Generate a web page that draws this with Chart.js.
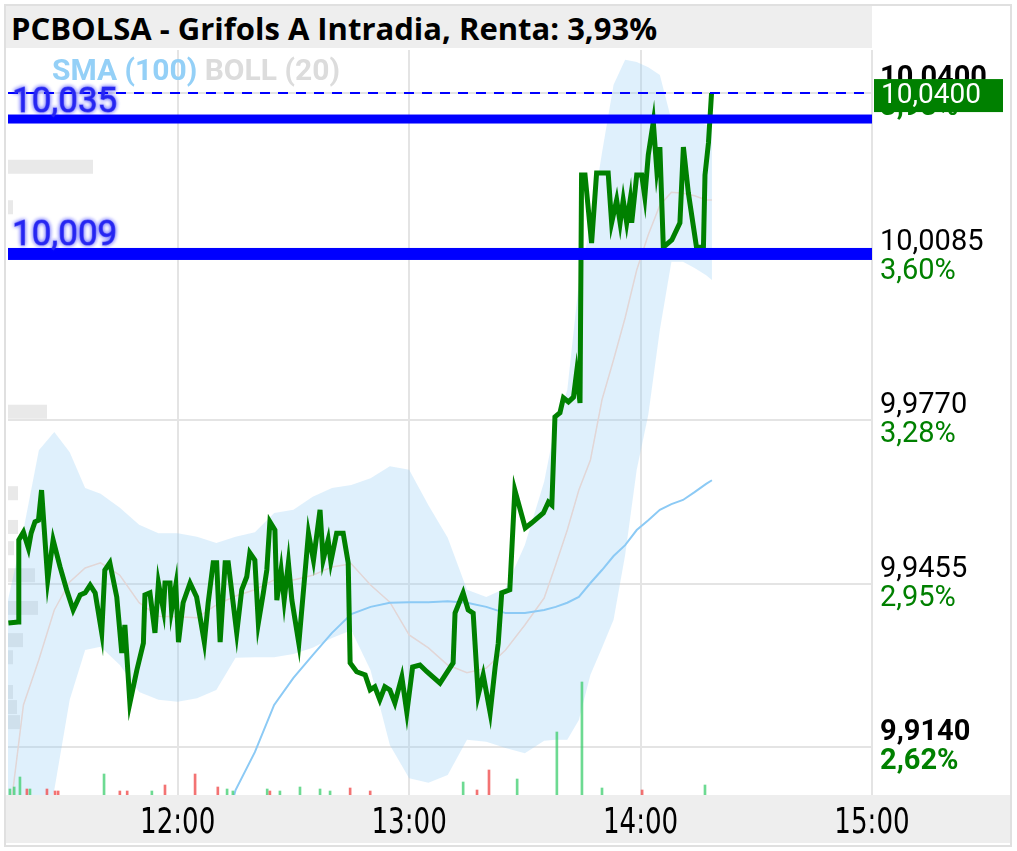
<!DOCTYPE html>
<html>
<head>
<meta charset="utf-8">
<script src="https://cdn.jsdelivr.net/npm/chart.js@4.4.1/dist/chart.umd.min.js"></script>
<style>
  html, body { margin: 0; padding: 0; background: #fff; }
  #wrap { position: relative; width: 1017px; height: 851px; overflow: hidden; }
  #frame { position: absolute; left: 4px; top: 4px; width: 1004px; height: 839px; border: 2px solid #e0e0e0; }
  #title { position: absolute; left: 6px; top: 6px; width: 866px; height: 42px; background: #eeeeee;
           font: bold 31px 'Open Sans', sans-serif; line-height: 44px; padding-left: 5px; box-sizing: border-box; color: #000; white-space: nowrap; }
  #bottom { position: absolute; left: 6px; top: 795px; width: 1004px; height: 48px; background: #eeeeee; }
  canvas { position: absolute; left: 0; top: 0; }
</style>
</head>
<body>
<div id="wrap">
  <div id="frame"></div>
  <div id="title">PCBOLSA - Grifols A Intradia, Renta: 3,93%</div>
  <div id="bottom"></div>
  <canvas id="chart" width="1017" height="851"></canvas>
</div>
<script>
// tiempo en minutos desde las 11:00
const priceTime = [16.1,18.7,18.8,20.0,21.3,22.0,23.0,23.9,24.7,26.3,27.7,29.5,31.2,32.9,34.7,36.0,37.3,38.6,40.3,41.1,
  42.4,44.2,45.5,46.3,47.6,49.4,51.1,51.5,52.8,54.1,55.0,56.3,56.7,58.0,58.4,59.5,60.2,61.4,63.2,64.9,
  66.9,67.9,69.2,70.1,71.0,72.3,73.1,75.3,76.6,77.9,78.7,80.0,80.9,82.2,83.1,83.9,85.2,85.7,86.8,87.6,
  88.7,89.6,91.4,93.0,93.9,95.2,96.9,97.7,99.0,99.7,101.2,102.9,104.2,104.7,106.4,108.6,109.9,111.1,112.4,113.7,
  115.0,116.3,118.1,119.4,120.9,122.8,124.6,128.0,131.4,131.9,134.0,135.3,136.6,137.9,139.2,141.0,142.3,143.1,144.0,146.1,
  147.4,150.1,151.8,154.8,156.1,157.0,157.8,159.1,160.0,161.3,162.6,163.4,164.3,164.7,165.6,167.3,168.6,171.6,172.5,173.8,
  174.7,175.5,176.4,177.3,177.7,179.0,180.3,181.1,182.0,183.3,184.2,185.0,185.9,188.1,190.2,191.1,192.4,194.5,196.3,196.7,
  197.6,198.4];
const priceValue = [9.9379,9.9381,9.9539,9.9554,9.9523,9.9552,9.9574,9.9577,9.9635,9.9462,9.9539,9.9487,9.9443,9.9404,9.9433,9.9437,9.9452,9.9437,9.9360,9.9481,
  9.9495,9.9429,9.9321,9.9375,9.9225,9.9288,9.9340,9.9433,9.9437,9.9360,9.9456,9.9404,9.9456,9.9456,9.9404,9.9452,9.9342,9.9418,9.9456,9.9429,
  9.9342,9.9418,9.9495,9.9495,9.9342,9.9495,9.9495,9.9360,9.9443,9.9468,9.9514,9.9500,9.9379,9.9437,9.9481,9.9574,9.9558,9.9423,9.9481,9.9423,
  9.9495,9.9423,9.9340,9.9475,9.9552,9.9500,9.9597,9.9500,9.9539,9.9497,9.9552,9.9552,9.9495,9.9302,9.9285,9.9279,9.9250,9.9256,9.9231,9.9256,
  9.9250,9.9225,9.9275,9.9207,9.9294,9.9298,9.9285,9.9263,9.9302,9.9398,9.9437,9.9404,9.9398,9.9240,9.9279,9.9206,9.9294,9.9340,9.9437,9.9443,
  9.9635,9.9562,9.9572,9.9591,9.9612,9.9606,9.9776,9.9784,9.9813,9.9805,9.9814,9.9861,9.9803,10.0242,10.0242,10.0111,10.0246,10.0246,10.0150,10.0194,
  10.0150,10.0194,10.0150,10.0194,10.0150,10.0242,10.0242,10.0200,10.0281,10.0344,10.0252,10.0296,10.0103,10.0117,10.0150,10.0296,10.0207,10.0103,10.0103,10.0242,
  10.0304,10.0400];

const bandTime = [16,20,24,28,32,36,40,45,50,55,60,65,70,75,80,85,90,95,100,105,110,115,120,125,130,135,140,145,150,155,
  158,161,164,167,170,173,176,179,182,185,188,191,194,197,198.5];
const bollUpper = [9.9423,9.9558,9.9712,9.9747,9.9708,9.9639,9.9628,9.9601,9.9568,9.9552,9.9552,9.9545,9.9533,9.9545,9.9554,
  9.9591,9.9597,9.9622,9.9639,9.9645,9.9658,9.9681,9.9674,9.9606,9.9543,9.9443,9.9429,9.9446,9.9529,9.9651,
  9.9764,9.9828,10.0034,10.0146,10.0285,10.0416,10.0464,10.0460,10.0450,10.0435,10.0348,10.0344,10.0344,10.0339,10.0329];
const bollMiddle = [9.8980,9.9221,9.9308,9.9404,9.9458,9.9485,9.9495,9.9471,9.9418,9.9392,9.9391,9.9389,9.9414,9.9431,9.9443,
  9.9462,9.9462,9.9471,9.9487,9.9493,9.9452,9.9419,9.9356,9.9331,9.9298,9.9283,9.9292,9.9327,9.9375,9.9427,
  9.9491,9.9558,9.9635,9.9693,9.9809,9.9886,9.9967,10.0059,10.0127,10.0184,10.0209,10.0207,10.0202,10.0194,10.0194];
const bollLower = [9.8845,9.8884,9.8942,9.9057,9.9231,9.9327,9.9333,9.9298,9.9246,9.9231,9.9227,9.9234,9.9250,9.9312,9.9313,
  9.9313,9.9319,9.9331,9.9350,9.9365,9.9288,9.9144,9.9080,9.9071,9.9086,9.9154,9.9150,9.9138,9.9128,9.9152,
  9.9154,9.9154,9.9192,9.9279,9.9331,9.9385,9.9510,9.9674,9.9780,9.9944,10.0075,10.0075,10.0063,10.0049,10.0040];

const smaTime = [74.3,75,80,85,90,95,100,105,110,115,120,125,130,135,140,145,150,155,158,161,164,167,170,173,176,179,182,185,188,191,194,197,198.5];
const smaValue = [9.9038,9.9057,9.9130,9.9221,9.9273,9.9317,9.9360,9.9396,9.9410,9.9418,9.9419,9.9419,9.9421,9.9418,9.9410,9.9398,9.9398,
  9.9404,9.9410,9.9418,9.9429,9.9456,9.9481,9.9508,9.9529,9.9558,9.9577,9.9597,9.9608,9.9616,9.9631,9.9647,9.9654];

const volTime = [16.5,17.6,19.1,20.9,21.7,26.1,28.2,29.0,40.9,45.0,46.9,53.3,56.7,64.5,70.4,72.8,74.3,83.2,83.9,86.5,
  91.7,96.9,99.5,104.7,109.9,134.0,137.6,140.7,148.0,158.3,164.8,170.0,180.4,196.7];
const volValue = [6,8,18,6,6,6,4,4,21,4,4,4,10,21,8,6,4,6,4,4,8,6,4,7,4,13,5,25,16,63,113,7,5,10];
const volSide = [1,1,1,-1,1,-1,-1,-1,1,-1,-1,1,-1,-1,-1,1,1,1,-1,1,1,1,1,-1,-1,1,-1,-1,1,1,1,1,-1,1];

// volumen por nivel de precio (barras grises a la izquierda)
const profilePrice = [10.0258,10.0180,9.9786,9.9629,9.9564,9.9523,9.9471,9.9408,9.9346,9.9313,9.9246,9.9217,9.9188];
const profileVolume = [85,5,39,10,10,6,27,30,15,5,5,9,12];

const priceTicks = [9.9140, 9.9455, 9.9770, 10.0085, 10.0400];
const priceLabels = ['9,9140', '9,9455', '9,9770', '10,0085', '10,0400'];
const pctLabels = ['2,62%', '2,95%', '3,28%', '3,60%', '3,93%'];
const timeTicks = [60, 120, 180, 240];
const timeLabels = ['12:00', '13:00', '14:00', '15:00'];
const levelValues = [10.035, 10.009];
const levelLabels = ['10,035', '10,009'];
const lastPrice = 10.04;
const lastLabel = '10,0400';

const toXY = (xs, ys) => xs.map((x, i) => ({ x: x, y: ys[i] }));
const GRID = '#e4e4e4';

const overlay = {
    id: 'overlay',
    beforeDatasetsDraw(chart) {
        const ctx = chart.ctx, y = chart.scales.y, xv = chart.scales.xv, a = chart.chartArea;
        ctx.save();
        ctx.fillStyle = 'rgba(200,200,200,0.4)';
        profilePrice.forEach((p, i) => {
            const top = y.getPixelForValue(p + 0.00135), bot = y.getPixelForValue(p - 0.00135);
            ctx.fillRect(a.left, top, xv.getPixelForValue(profileVolume[i]) - a.left, bot - top);
        });
        ctx.restore();
    },
    afterDatasetsDraw(chart) {
        const ctx = chart.ctx, y = chart.scales.y, a = chart.chartArea;
        ctx.save();
        // línea discontinua del último precio
        const yl = y.getPixelForValue(lastPrice);
        ctx.strokeStyle = '#0000ff';
        ctx.lineWidth = 2;
        ctx.setLineDash([10, 8]);
        ctx.beginPath(); ctx.moveTo(a.left, yl); ctx.lineTo(a.right, yl); ctx.stroke();
        ctx.setLineDash([]);
        // niveles
        const widths = [9, 12];
        levelValues.forEach((v, i) => {
            const py = y.getPixelForValue(v);
            ctx.fillStyle = '#0000ff';
            ctx.fillRect(a.left, py - widths[i] / 2, a.right - a.left, widths[i]);
        });
        ctx.font = '35px Roboto';
        ctx.textBaseline = 'alphabetic';
        ctx.textAlign = 'left';
        ctx.shadowColor = 'rgba(20,20,255,0.8)';
        ctx.shadowBlur = 4;
        ctx.fillStyle = '#2a2af0';
        ctx.strokeStyle = 'rgba(42,42,240,0.6)';
        ctx.lineWidth = 1;
        levelValues.forEach((v, i) => {
            const py = y.getPixelForValue(v);
            ctx.fillText(levelLabels[i], a.left + 4, py - widths[i] / 2 - 3);
            ctx.strokeText(levelLabels[i], a.left + 4, py - widths[i] / 2 - 3);
        });
        ctx.shadowBlur = 0;
        ctx.shadowColor = 'transparent';
        // leyenda
        ctx.font = 'bold 30px Roboto';
        ctx.textBaseline = 'middle';
        ctx.fillStyle = '#94d0f7';
        ctx.fillText('SMA (100)', 52, 72);
        const w = ctx.measureText('SMA (100) ').width;
        ctx.fillStyle = '#dcdcdc';
        ctx.fillText('BOLL (20)', 52 + w, 72);
        ctx.restore();
    },
    afterDraw(chart) {
        const ctx = chart.ctx, y = chart.scales.y, x = chart.scales.x, a = chart.chartArea;
        ctx.save();
        ctx.textAlign = 'left';
        ctx.textBaseline = 'middle';
        priceTicks.forEach((v, i) => {
            const py = y.getPixelForValue(v);
            const bold = (i === 0 || i === priceTicks.length - 1) ? 'bold ' : '';
            ctx.font = bold + '29px Roboto';
            ctx.fillStyle = '#000';
            ctx.fillText(priceLabels[i], a.right + 8, py - 14);
            ctx.fillStyle = '#008000';
            ctx.fillText(pctLabels[i], a.right + 8, py + 15);
        });
        // caja del último precio
        const yl = y.getPixelForValue(lastPrice);
        ctx.fillStyle = '#008000';
        ctx.fillRect(a.right + 2, yl - 14, 129, 33);
        ctx.fillStyle = '#fff';
        ctx.font = '28px Roboto';
        ctx.fillText(lastLabel, a.right + 9, yl + 3);
        // etiquetas de hora (tipografía estrecha)
        ctx.fillStyle = '#000';
        ctx.textAlign = 'center';
        ctx.font = "35px 'Liberation Sans Narrow', 'DejaVu Sans Condensed', sans-serif";
        timeTicks.forEach((t, i) => {
            ctx.save();
            ctx.translate(x.getPixelForValue(t), 824);
            ctx.scale(0.83, 1);
            ctx.fillText(timeLabels[i], 0, 0);
            ctx.restore();
        });
        ctx.restore();
    }
};

new Chart(document.getElementById('chart'), {
    type: 'line',
    data: {
        datasets: [
            { label: 'precio', data: toXY(priceTime, priceValue), borderColor: '#008000', borderWidth: 5,
              pointRadius: 0, tension: 0, fill: false, order: 0, xAxisID: 'x', yAxisID: 'y' },
            { type: 'bar', label: 'volumen', data: toXY(volTime, volValue),
              backgroundColor: volSide.map(s => s > 0 ? 'rgba(60,205,110,0.75)' : 'rgba(240,80,80,0.8)'),
              barThickness: 2, order: 1, xAxisID: 'x', yAxisID: 'yv' },
            { label: 'SMA (100)', data: toXY(smaTime, smaValue), borderColor: '#8ccaf5', borderWidth: 2,
              pointRadius: 0, fill: false, order: 2, xAxisID: 'x', yAxisID: 'y' },
            { label: 'BOLL media', data: toXY(bandTime, bollMiddle), borderColor: '#e2d6d6', borderWidth: 1.5,
              pointRadius: 0, fill: false, order: 3, xAxisID: 'x', yAxisID: 'y' },
            { label: 'BOLL sup', data: toXY(bandTime, bollUpper), borderWidth: 0, borderColor: 'rgba(0,0,0,0)',
              backgroundColor: 'rgba(150,205,245,0.3)', pointRadius: 0, fill: '+1', order: 4, xAxisID: 'x', yAxisID: 'y' },
            { label: 'BOLL inf', data: toXY(bandTime, bollLower), borderWidth: 0, borderColor: 'rgba(0,0,0,0)',
              pointRadius: 0, fill: false, order: 5, xAxisID: 'x', yAxisID: 'y' }
        ]
    },
    options: {
        responsive: false,
        animation: false,
        devicePixelRatio: 1,
        layout: { padding: { left: 8, top: 50, right: 145, bottom: 56 } },
        plugins: { legend: { display: false }, tooltip: { enabled: false } },
        scales: {
            x: { type: 'linear', min: 16, max: 240, position: 'bottom', offset: false,
                 afterBuildTicks: s => { s.ticks = timeTicks.map(v => ({ value: v })); },
                 ticks: { display: false }, border: { display: false },
                 grid: { color: GRID, lineWidth: 2, drawTicks: false, offset: false } },
            y: { type: 'linear', min: 9.90475, max: 10.0483, position: 'right',
                 afterBuildTicks: s => { s.ticks = priceTicks.map(v => ({ value: v })); },
                 ticks: { display: false }, border: { display: false },
                 grid: { color: GRID, lineWidth: 2, drawTicks: false } },
            yv: { type: 'linear', display: false, min: 0, max: 745 },
            xv: { type: 'linear', axis: 'x', display: false, min: 0, max: 864, offset: false }
        }
    },
    plugins: [overlay]
});
</script>
</body>
</html>
